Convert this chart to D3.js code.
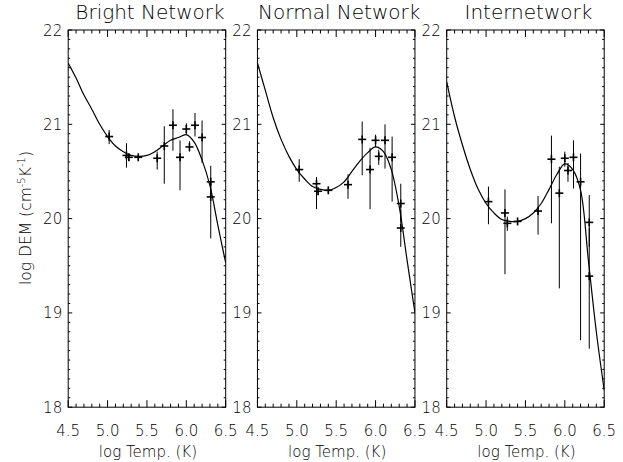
<!DOCTYPE html>
<html><head><meta charset="utf-8">
<script src="https://cdn.jsdelivr.net/npm/d3@7/dist/d3.min.js"></script>
<style>
body{margin:0;background:#fff}
text{font-family:"DejaVu Sans",sans-serif;fill:#000;font-weight:300}
</style>
</head><body>
<svg id="c" width="623" height="462"></svg>
<script>
// ---------- data ----------
const panelTitles = ["Bright Network", "Normal Network", "Internetwork"];
const xTicks = [4.5, 5.0, 5.5, 6.0, 6.5];
const xTickLabels = ["4.5", "5.0", "5.5", "6.0", "6.5"];
const yTicks = [18, 19, 20, 21, 22];
const yTickLabels = ["18", "19", "20", "21", "22"];

const curveT = [4.5,4.6,4.7,4.8,4.9,5.0,5.1,5.2,5.3,5.4,5.5,5.6,5.7,5.8,5.9,6.0,6.1,6.2,6.3,6.4,6.5];
const curveBright = [21.65,21.49,21.31,21.16,21.00,20.87,20.77,20.71,20.67,20.66,20.67,20.71,20.77,20.83,20.86,20.89,20.81,20.62,20.35,19.93,19.53];
const curveNormal = [21.65,21.36,21.07,20.84,20.66,20.52,20.42,20.34,20.31,20.30,20.33,20.39,20.50,20.61,20.70,20.76,20.71,20.52,20.13,19.56,19.00];
const curveInter  = [21.45,21.08,20.78,20.52,20.31,20.16,20.06,19.99,19.97,19.97,20.00,20.06,20.16,20.31,20.47,20.58,20.52,20.30,19.55,18.80,18.18];

const tBright  = [5.02,5.24,5.27,5.39,5.63,5.72,5.83,5.92,6.00,6.04,6.11,6.20,6.31,6.31];
const demBright= [20.87,20.67,20.65,20.65,20.64,20.77,20.99,20.65,20.95,20.76,20.99,20.86,20.39,20.23];
const hiBright = [20.94,20.80,20.69,20.67,20.71,20.98,21.16,20.83,21.01,20.82,21.12,21.04,20.56,20.39];
const loBright = [20.79,20.54,20.61,20.62,20.52,20.37,20.72,20.30,20.89,20.71,20.87,20.59,20.23,19.79];

const tNormal  = [5.03,5.25,5.27,5.40,5.65,5.83,5.93,6.00,6.04,6.12,6.21,6.32,6.32];
const demNormal= [20.52,20.37,20.29,20.30,20.36,20.84,20.52,20.83,20.66,20.83,20.65,20.16,19.90];
const hiNormal = [20.63,20.44,20.32,20.33,20.47,21.03,20.75,20.89,20.73,21.00,20.87,20.37,20.09];
const loNormal = [20.39,20.10,20.25,20.27,20.21,20.46,20.10,20.76,20.57,20.53,20.18,19.97,19.70];

const tInter   = [5.03,5.24,5.27,5.40,5.66,5.83,5.93,6.00,6.04,6.11,6.20,6.31,6.31];
const demInter = [20.18,20.06,19.95,19.97,20.08,20.63,20.27,20.64,20.51,20.65,20.39,19.96,19.39];
const hiInter  = [20.34,20.31,20.02,20.00,20.24,20.88,20.55,20.71,20.59,20.83,20.69,20.25,19.90];
const loInter  = [19.94,19.41,19.87,19.94,19.83,19.95,19.26,20.55,20.39,20.32,18.71,19.70,18.62];

const panels = [
  {title: panelTitles[0], curve: curveBright, t: tBright, v: demBright, hi: hiBright, lo: loBright},
  {title: panelTitles[1], curve: curveNormal, t: tNormal, v: demNormal, hi: hiNormal, lo: loNormal},
  {title: panelTitles[2], curve: curveInter,  t: tInter,  v: demInter,  hi: hiInter,  lo: loInter}
];

// ---------- layout ----------
const svg = d3.select("#c");
const left0 = 68.2, step = 189.25, pw = 157.5;
const topY = 30, bottomY = 407.2;
const y = d3.scaleLinear().domain([18, 22]).range([bottomY, topY]);
const xMinor = d3.range(45, 66, 1).map(d => d / 10);
const yMinor = d3.range(180, 221, 1).map(d => d / 10);

panels.forEach((p, i) => {
  const x0 = left0 + i * step;
  const x = d3.scaleLinear().domain([4.5, 6.5]).range([x0, x0 + pw]);
  const g = svg.append("g");

  g.append("rect").attr("x", x0).attr("y", topY).attr("width", pw).attr("height", bottomY - topY)
    .attr("fill", "none").attr("stroke", "#000").attr("stroke-width", 1);

  xMinor.forEach(t => {
    const major = Math.abs(t * 2 - Math.round(t * 2)) < 1e-6;
    const len = major ? 7 : 3.5;
    g.append("line").attr("x1", x(t)).attr("x2", x(t)).attr("y1", bottomY).attr("y2", bottomY - len).attr("stroke", "#000");
    g.append("line").attr("x1", x(t)).attr("x2", x(t)).attr("y1", topY).attr("y2", topY + len).attr("stroke", "#000");
  });
  yMinor.forEach(v => {
    const major = Math.abs(v - Math.round(v)) < 1e-6;
    const len = major ? 4 : 2;
    g.append("line").attr("x1", x0).attr("x2", x0 + len).attr("y1", y(v)).attr("y2", y(v)).attr("stroke", "#000");
    g.append("line").attr("x1", x0 + pw).attr("x2", x0 + pw - len).attr("y1", y(v)).attr("y2", y(v)).attr("stroke", "#000");
  });

  xTicks.forEach((t, k) => {
    g.append("text").attr("x", x(t)).attr("y", 436).attr("text-anchor", "middle")
      .attr("font-size", 15).text(xTickLabels[k]);
  });
  yTicks.forEach((v, k) => {
    g.append("text").attr("x", x0 - 6).attr("y", y(v) + 5.5).attr("text-anchor", "end")
      .attr("font-size", 15).text(yTickLabels[k]);
  });

  g.append("text").attr("x", x0 + pw / 2 + 1).attr("y", 457).attr("text-anchor", "middle")
    .attr("font-size", 15).text("log Temp. (K)");
  g.append("text").attr("x", x0 + pw / 2 + 3).attr("y", 19).attr("text-anchor", "middle")
    .attr("font-size", 20).text(p.title);

  const cid = "clip" + i;
  svg.append("clipPath").attr("id", cid).append("rect")
    .attr("x", x0).attr("y", topY).attr("width", pw).attr("height", bottomY - topY);

  const line = d3.line().x((d, k) => x(curveT[k])).y(d => y(d)).curve(d3.curveCatmullRom.alpha(0.5));
  g.append("path").attr("d", line(p.curve)).attr("fill", "none").attr("stroke", "#000")
    .attr("stroke-width", 1.2).attr("clip-path", `url(#${cid})`);

  p.t.forEach((t, k) => {
    g.append("line").attr("x1", x(t)).attr("x2", x(t)).attr("y1", y(p.hi[k])).attr("y2", y(p.lo[k]))
      .attr("stroke", "#000").attr("stroke-width", 1);
    g.append("line").attr("x1", x(t) - 4).attr("x2", x(t) + 4).attr("y1", y(p.v[k])).attr("y2", y(p.v[k]))
      .attr("stroke", "#000").attr("stroke-width", 1.6);
    g.append("line").attr("x1", x(t)).attr("x2", x(t)).attr("y1", y(p.v[k]) - 4).attr("y2", y(p.v[k]) + 4)
      .attr("stroke", "#000").attr("stroke-width", 1.6);
  });
});

const yl = svg.append("text").attr("transform", "translate(30.5,218) rotate(-90)")
  .attr("text-anchor", "middle").attr("font-size", 15.5);
yl.append("tspan").text("log DEM (cm");
yl.append("tspan").attr("font-size", 10).attr("dy", -6).text("-5");
yl.append("tspan").attr("dy", 6).text("K");
yl.append("tspan").attr("font-size", 10).attr("dy", -6).text("-1");
yl.append("tspan").attr("dy", 6).text(")");
</script>
</body></html>
